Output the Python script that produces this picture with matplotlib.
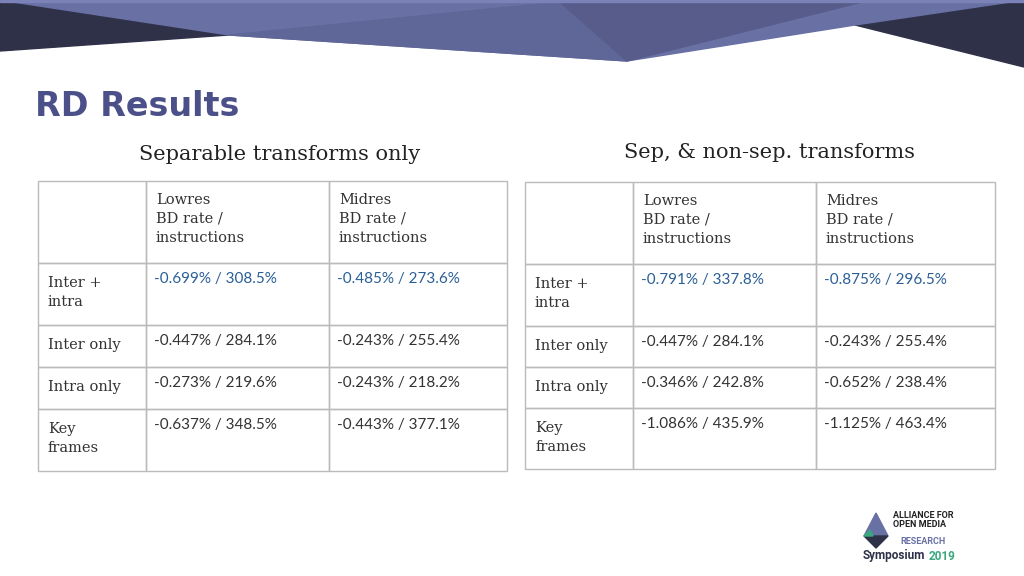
import matplotlib.pyplot as plt
from matplotlib.patches import Polygon, Rectangle

row_labels = ["Inter +\nintra", "Inter only", "Intra only", "Key\nframes"]
col_labels = ["Lowres\nBD rate /\ninstructions", "Midres\nBD rate /\ninstructions"]
sep_low = ["-0.699% / 308.5%", "-0.447% / 284.1%", "-0.273% / 219.6%", "-0.637% / 348.5%"]
sep_mid = ["-0.485% / 273.6%", "-0.243% / 255.4%", "-0.243% / 218.2%", "-0.443% / 377.1%"]
non_low = ["-0.791% / 337.8%", "-0.447% / 284.1%", "-0.346% / 242.8%", "-1.086% / 435.9%"]
non_mid = ["-0.875% / 296.5%", "-0.243% / 255.4%", "-0.652% / 238.4%", "-1.125% / 463.4%"]

fig = plt.figure(figsize=(10.24, 5.76), dpi=100)
ax = fig.add_axes([0, 0, 1, 1])
ax.set_xlim(0, 1024)
ax.set_ylim(576, 0)
ax.axis("off")

# banner
ax.add_patch(Polygon([(0, 0), (0, 51), (229, 35)], color="#2f3149"))
ax.add_patch(Polygon([(855, 25), (1024, 67), (1024, 0)], color="#2f3149"))
ax.add_patch(Polygon([(0, 0), (229, 35), (627, 61), (855, 25), (1024, 0)], color="#6870a4"))
ax.add_patch(Polygon([(229, 35), (560, 2), (627, 61)], color="#5f6698"))
ax.add_patch(Polygon([(560, 2), (870, 0), (627, 61)], color="#575c8a"))
ax.add_patch(Polygon([(0, 0), (1024, 0), (1024, 2), (0, 2)], color="#7b82b8"))

ax.text(35, 107, "RD Results", fontsize=24, fontweight="bold", color="#4b5089",
        family="DejaVu Sans", va="center")

serif = "DejaVu Serif"
sans = "Lato"


def table(xs, ys, title, tx, ty, low, mid):
    ax.text(tx, ty, title, fontsize=15, family=serif, color="#222222", va="center", ha="center")
    for i in range(len(ys) - 1):
        for j in range(len(xs) - 1):
            ax.add_patch(Rectangle((xs[j], ys[i]), xs[j + 1] - xs[j], ys[i + 1] - ys[i],
                                   fill=False, ec="#bbbbbb", lw=1))
    for j, c in enumerate(col_labels):
        ax.text(xs[j + 1] + 10, ys[0] + 12, c, fontsize=10.5, family=serif,
                color="#333333", va="top", linespacing=1.45)
    for i, r in enumerate(row_labels):
        ax.text(xs[0] + 10, ys[i + 1] + 13, r, fontsize=10.5, family=serif,
                color="#333333", va="top", linespacing=1.45)
        color = "#2a5f96" if i == 0 else "#333333"
        ax.text(xs[1] + 8, ys[i + 1] + 9, low[i], fontsize=11, family=sans, color=color, va="top")
        ax.text(xs[2] + 8, ys[i + 1] + 9, mid[i], fontsize=11, family=sans, color=color, va="top")


table([38, 146, 329, 507], [181, 263, 325, 367, 409, 471],
      "Separable transforms only", 280, 155, sep_low, sep_mid)
table([525, 633, 816, 995], [182, 264, 326, 367, 408, 469],
      "Sep, & non-sep. transforms", 770, 153, non_low, non_mid)

# logo
ax.add_patch(Polygon([(876, 513), (864, 536), (888, 536)], color="#6870a4"))
ax.add_patch(Polygon([(864, 536), (888, 536), (876, 548)], color="#2f3149"))
ax.add_patch(Polygon([(864, 536), (870, 530), (873, 536)], color="#3aa77e"))
ax.text(893, 520, "ALLIANCE FOR\nOPEN MEDIA", fontsize=6.5, fontweight="bold",
        family="Roboto", color="#222222", va="center", linespacing=1.0)
ax.text(900, 541, "RESEARCH", fontsize=6.5, fontweight="bold", family="Roboto",
        color="#6870a4", va="center")
ax.text(863, 556, "Symposium", fontsize=8.5, fontweight="bold", family="Roboto",
        color="#2f3149", va="center")
ax.text(929, 556, "2019", fontsize=8.5, fontweight="bold", family="Roboto",
        color="#3aa77e", va="center")

fig.savefig("out.png", dpi=100, facecolor="white")
